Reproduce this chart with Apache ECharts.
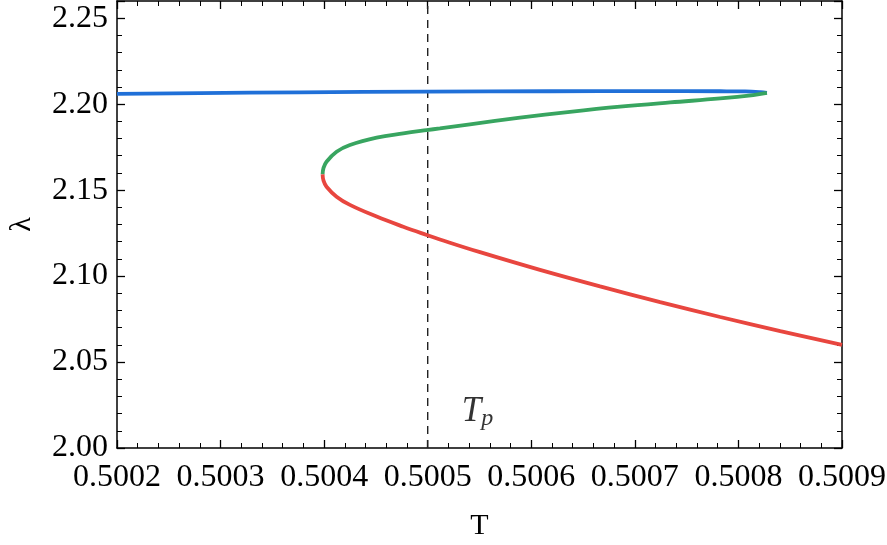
<!DOCTYPE html>
<html><head><meta charset="utf-8">
<script src="https://cdn.jsdelivr.net/npm/echarts@6/dist/echarts.min.js"></script>
<style>html,body{margin:0;padding:0;background:#fff}#c{width:887px;height:545px}</style>
</head><body><div id="c"></div>
<script>
// Data (T, lambda)
const blueT = [0.5002000, 0.5002799, 0.5003765, 0.5004993, 0.5006181, 0.5007147, 0.5007824, 0.5008065, 0.5008210, 0.5008275];
const blueL = [2.2060, 2.2064, 2.2069, 2.2073, 2.2075, 2.2076, 2.2075, 2.2074, 2.2070, 2.2066];
const greenT = [0.5008275, 0.5008143, 0.5007824, 0.5007341, 0.5006857, 0.5006374, 0.5005891, 0.5005408, 0.5005118, 0.5004990, 0.5004764, 0.5004507, 0.5004249, 0.5004120, 0.5004023, 0.5003994, 0.5003985];
const greenL = [2.2066, 2.2053, 2.2033, 2.2010, 2.1985, 2.1955, 2.1921, 2.1883, 2.1859, 2.1849, 2.1830, 2.1805, 2.1762, 2.1723, 2.1665, 2.1629, 2.1592];
const redT = [0.5003985, 0.5003994, 0.5004023, 0.5004120, 0.5004249, 0.5004507, 0.5004764, 0.5004990, 0.5005118, 0.5005505, 0.5006084, 0.5006664, 0.5007244, 0.5007824, 0.5008404, 0.5009000];
const redL = [2.1592, 2.1555, 2.1520, 2.1462, 2.1414, 2.1346, 2.1287, 2.1239, 2.1213, 2.1139, 2.1036, 2.0940, 2.0849, 2.0762, 2.0680, 2.0600];
const tpT = 0.5005;
const tpLabelPos = [0.5005480, 2.0211];
const xMin = 0.5002, xMax = 0.5009, xStep = 0.0001;
const yMin = 2.00, yMax = 2.26, yStep = 0.05;

const zip = (a, b) => a.map((v, i) => [v, b[i]]);
const serif = 'Liberation Serif';
const tickStyle = {inside: true, length: 8, lineStyle: {color: '#000', width: 1.3}};
const minorStyle = {show: true, splitNumber: 5, length: 5, lineStyle: {color: '#000', width: 1}};
const lineAx = {show: true, onZero: false, lineStyle: {color: '#000', width: 1.5}};

const chart = echarts.init(document.getElementById('c'));
chart.setOption({
  animation: false,
  backgroundColor: '#fff',
  grid: {left: 117, right: 45, top: 1, bottom: 97, containLabel: false, outerBoundsMode: 'none'},
  xAxis: [{
    type: 'value', min: xMin, max: xMax, interval: xStep, position: 'bottom',
    axisLine: lineAx, axisTick: tickStyle, minorTick: minorStyle, splitLine: {show: false},
    axisLabel: {fontFamily: serif, fontSize: 32, color: '#000', margin: 14, formatter: v => v.toFixed(4)},
    name: 'T', nameLocation: 'middle', nameGap: 63,
    nameTextStyle: {fontFamily: serif, fontSize: 30, color: '#000'}
  }, {
    type: 'value', min: xMin, max: xMax, interval: xStep, position: 'top',
    axisLine: lineAx, axisTick: tickStyle, minorTick: minorStyle, splitLine: {show: false},
    axisLabel: {show: false}
  }],
  yAxis: [{
    type: 'value', min: yMin, max: yMax, interval: yStep, position: 'left',
    axisLine: lineAx, axisTick: tickStyle, minorTick: minorStyle, splitLine: {show: false},
    axisLabel: {fontFamily: serif, fontSize: 32, color: '#000', margin: 9, showMaxLabel: false,
      formatter: v => (Math.abs(v - yMax) < 1e-6 ? '' : v.toFixed(2))},
    name: 'λ', nameLocation: 'middle', nameGap: 80,
    nameTextStyle: {fontFamily: serif, fontSize: 30, color: '#000'}
  }, {
    type: 'value', min: yMin, max: yMax, interval: yStep, position: 'right',
    axisLine: lineAx, axisTick: tickStyle, minorTick: minorStyle, splitLine: {show: false},
    axisLabel: {show: false}
  }],
  series: [
    {type: 'line', data: [[tpT, yMin], [tpT, yMax]], showSymbol: false, silent: true,
      lineStyle: {color: '#222', width: 1.4, type: [8, 6]}},
    {type: 'line', data: zip(blueT, blueL), smooth: 0.4, showSymbol: false,
      lineStyle: {color: '#2070d8', width: 3.8}},
    {type: 'line', data: zip(greenT, greenL), smooth: 0.4, showSymbol: false,
      lineStyle: {color: '#38a560', width: 3.8}},
    {type: 'line', data: zip(redT, redL), smooth: 0.4, showSymbol: false,
      lineStyle: {color: '#e8463f', width: 3.8}},
    {type: 'scatter', data: [tpLabelPos], symbolSize: 0, silent: true,
      label: {show: true, position: 'inside', formatter: '{t|T}{p|p}',
        rich: {
          t: {fontFamily: serif, fontStyle: 'italic', fontSize: 35, color: '#000'},
          p: {fontFamily: serif, fontStyle: 'italic', fontSize: 24, color: '#000', padding: [14, 0, 0, 0]}
        }}}
  ]
});
</script></body></html>
